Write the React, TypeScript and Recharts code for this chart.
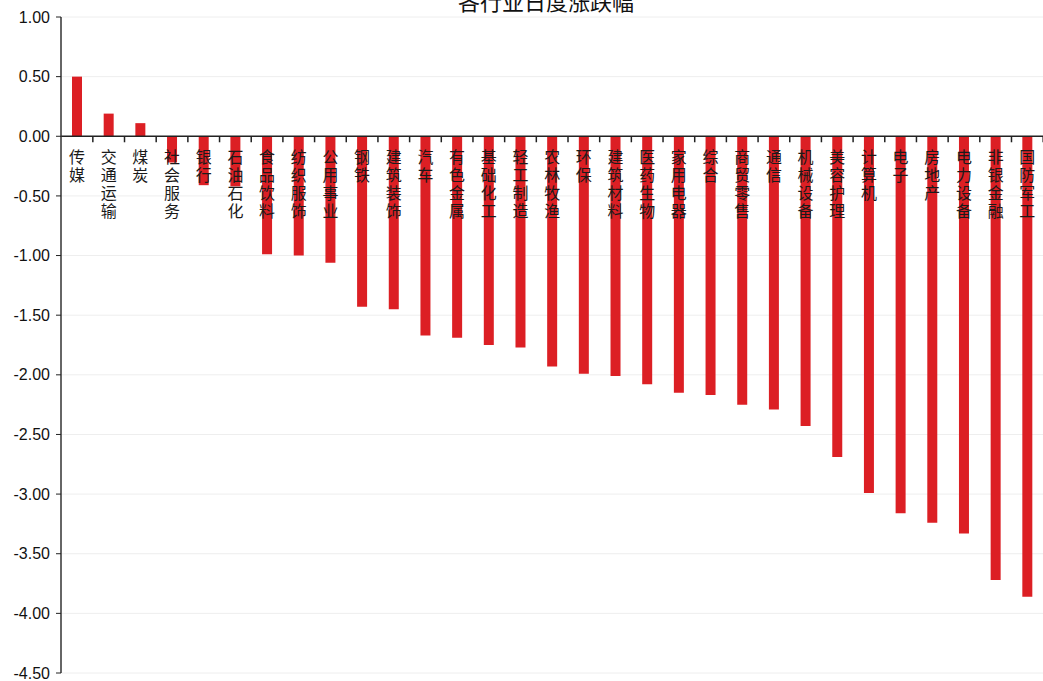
import React from 'react';
import {
  BarChart,
  Bar,
  YAxis,
  XAxis,
  CartesianGrid,
  ReferenceLine,
  LabelList,
} from 'recharts';

const industries = [
  '传媒', '交通运输', '煤炭', '社会服务', '银行', '石油石化', '食品饮料', '纺织服饰',
  '公用事业', '钢铁', '建筑装饰', '汽车', '有色金属', '基础化工', '轻工制造', '农林牧渔',
  '环保', '建筑材料', '医药生物', '家用电器', '综合', '商贸零售', '通信', '机械设备',
  '美容护理', '计算机', '电子', '房地产', '电力设备', '非银金融', '国防军工',
];

const changes = [
  0.5, 0.19, 0.11, -0.22, -0.41, -0.42, -0.99, -1.0,
  -1.06, -1.43, -1.45, -1.67, -1.69, -1.75, -1.77, -1.93,
  -1.99, -2.01, -2.08, -2.15, -2.17, -2.25, -2.29, -2.43,
  -2.69, -2.99, -3.16, -3.24, -3.33, -3.72, -3.86,
];

const yTicks = [1, 0.5, 0, -0.5, -1, -1.5, -2, -2.5, -3, -3.5, -4, -4.5];

const WIDTH = 1043;
const HEIGHT = 681;
const Y_AXIS_WIDTH = 61;
const STEP = (WIDTH - Y_AXIS_WIDTH) / industries.length;
const BAR_RED = '#dc1f24';
const CJK = '"Noto Sans CJK SC", "Noto Sans", sans-serif';

const data = industries.map((name, i) => ({ name, value: changes[i] }));

// vertical category name hanging under the zero line, plus the category boundary tick
const CategoryLabel = (props: any) => {
  const vb = props.viewBox || props;
  const x = Number(vb.x);
  const y = Number(vb.y);
  const w = Number(vb.width);
  const h = Number(vb.height);
  const name = String(props.value);
  const v = changes[industries.indexOf(name)];
  const cx = x + w / 2;
  const zero = v < 0 ? Math.min(y, y + h) : Math.max(y, y + h);
  const chars = Array.from(name);
  return (
    <g>
      <line x1={cx + STEP / 2} x2={cx + STEP / 2} y1={zero} y2={zero + 6} stroke="#222" strokeWidth={1.5} />
      <text textAnchor="middle" fontSize={16} fill="#1a1a1a" fontFamily={CJK}>
        {chars.map((c, k) => (
          <tspan key={k} x={cx} y={zero + 27 + k * 18}>
            {c}
          </tspan>
        ))}
      </text>
    </g>
  );
};

export default function App() {
  return (
    <div style={{ position: 'absolute', left: 0, top: 0, width: WIDTH, height: HEIGHT, background: '#fff' }}>
      <BarChart
        width={WIDTH}
        height={HEIGHT}
        data={data}
        margin={{ top: 17, right: 0, bottom: 8, left: 0 }}
        barCategoryGap={0}
      >
        <CartesianGrid vertical={false} stroke="#eeeeee" />
        <XAxis dataKey="name" hide />
        <YAxis
          width={Y_AXIS_WIDTH}
          domain={[-4.5, 1]}
          ticks={yTicks}
          interval={0}
          tickFormatter={(v: number) => v.toFixed(2)}
          tick={{ fontSize: 16, fill: '#111', fontFamily: '"Liberation Sans", Arial, sans-serif' }}
          tickSize={5}
          tickMargin={6}
          tickLine={{ stroke: '#222' }}
          axisLine={{ stroke: '#333', strokeWidth: 1.5 }}
        />
        <Bar dataKey="value" fill={BAR_RED} barSize={10} isAnimationActive={false}>
          <LabelList dataKey="name" content={CategoryLabel} />
        </Bar>
        <ReferenceLine y={0} stroke="#222" strokeWidth={1.5} />
      </BarChart>
      <svg
        width={WIDTH}
        height={HEIGHT}
        style={{ position: 'absolute', left: 0, top: 0, pointerEvents: 'none' }}
      >
        <text x={546} y={10} textAnchor="middle" fontSize={22} fill="#111" fontFamily={CJK}>
          各行业日度涨跌幅
        </text>
      </svg>
    </div>
  );
}
